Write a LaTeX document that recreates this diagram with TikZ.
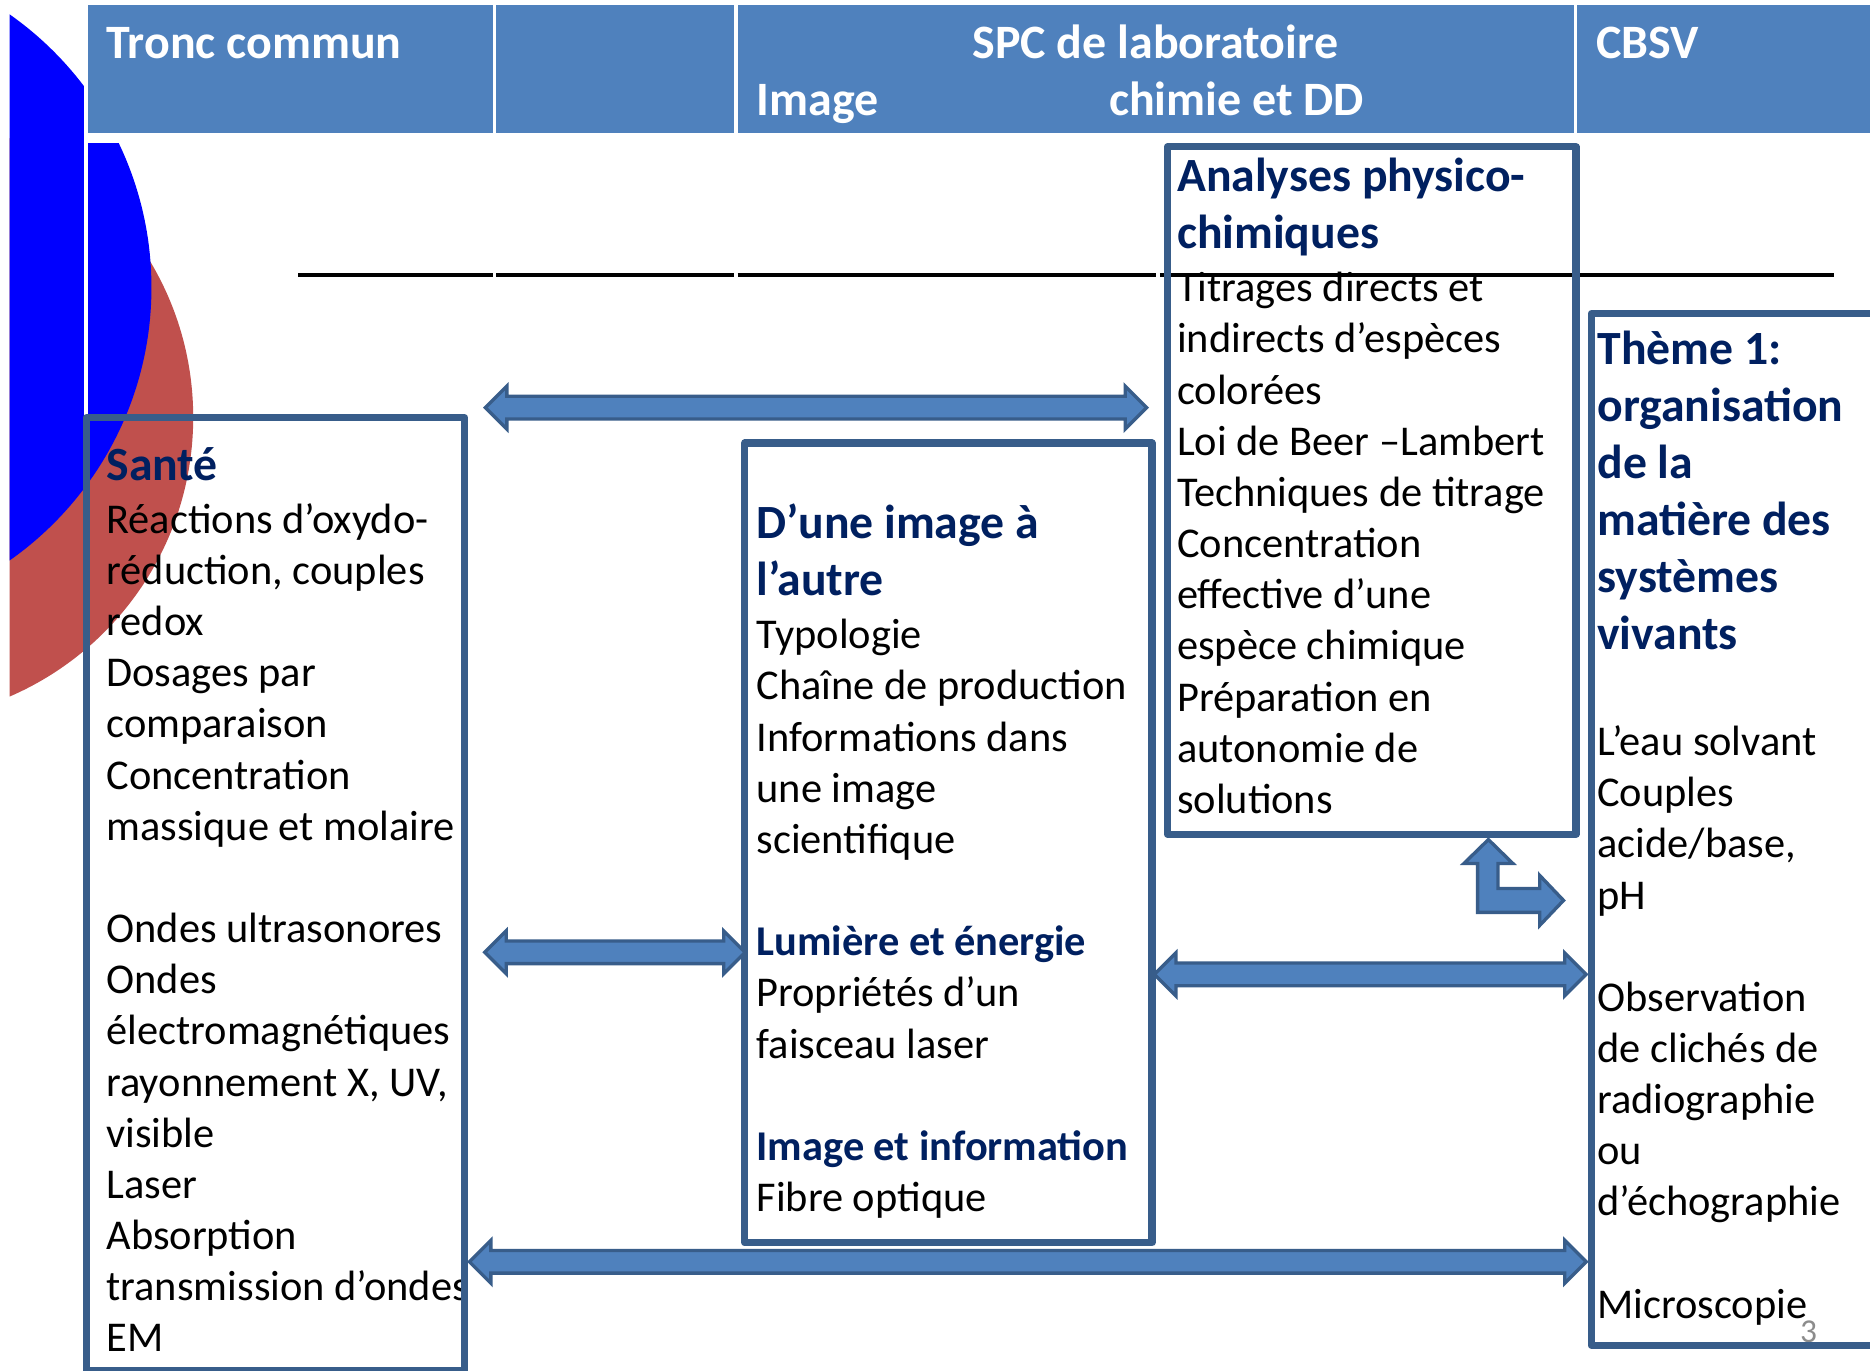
\documentclass[tikz,border=0pt]{standalone}
\usepackage{fontspec}
\setmainfont{Carlito}
\usetikzlibrary{calc}
\definecolor{hdr}{HTML}{4F81BD}
\definecolor{brd}{HTML}{385D8A}
\definecolor{navy}{HTML}{002060}
\definecolor{redc}{HTML}{C0504D}
\definecolor{pgnum}{HTML}{8C8C8C}
\tikzset{
  body/.style={anchor=base west, inner sep=0pt, font=\fontsize{17.78}{21}\selectfont},
  head/.style={anchor=base west, inner sep=0pt, text=navy, font=\fontsize{20}{24}\selectfont\bfseries},
  subhead/.style={anchor=base west, inner sep=0pt, text=navy, font=\fontsize{17.78}{21}\selectfont\bfseries},
  hdrtext/.style={anchor=base west, inner sep=0pt, text=white, font=\fontsize{20.1}{24}\selectfont\bfseries},
  hdrcell/.style={fill=hdr, draw=none},
  topicbox/.style={draw=brd, line width=3pt, line join=round},
  barrow/.style={fill=hdr, draw=brd, line width=1.4pt, line join=miter},
  rule/.style={draw=black, line width=1.3pt},
}
\newcommand\dblarrow[2]{%
  \draw[barrow] (#1) -- ($(#1)+(18,-18)$) -- ($(#1)+(18,-9.5)$) -- ($(#2)+(-18,-9.5)$)
    -- ($(#2)+(-18,-18)$) -- (#2) -- ($(#2)+(-18,18)$) -- ($(#2)+(-18,9.5)$)
    -- ($(#1)+(18,9.5)$) -- ($(#1)+(18,18)$) -- cycle;}
\begin{document}
\begin{tikzpicture}[x=0.5pt,y=-0.5pt]
\useasboundingbox (0,0) rectangle (1568,1149);
\fill[white] (0,0) rectangle (1568,1149);
% decorative circles
\begin{scope}
  \clip (8,0) rectangle (1568,1149);
  \fill[redc] (-92.8,350) circle [radius=127.4pt];
  \fill[blue] (-152.8,241) circle [radius=139.9pt];
\end{scope}
\fill[white] (70.5,0) rectangle (74,1149);
\fill[white] (70.5,111.8) rectangle (1568,120);
% header cells
\fill[hdrcell] (74,4.2) rectangle (413.1,111.8);
\fill[hdrcell] (415.9,4.2) rectangle (615.5,111.8);
\fill[hdrcell] (618.5,4.2) rectangle (1319.5,111.8);
\fill[hdrcell] (1322.5,4.2) rectangle (1568,111.8);
\node[hdrtext] (h1) at (88.9,48.9) {Tronc commun};
\node[hdrtext] (h2) at (815,48.9) {SPC de laboratoire};
\node[hdrtext] (h3) at (634,96.8) {Image};
\node[hdrtext] (h4) at (929.5,96.8) {chimie et DD};
\node[hdrtext] (h5) at (1338,48.9) {CBSV};
% black rule
\draw[rule] (250,230.6) -- (413,230.6);
\draw[rule] (416,230.6) -- (615.5,230.6);
\draw[rule] (618.5,230.6) -- (969.5,230.6);
\draw[rule] (972.5,230.6) -- (1538,230.6);
% Sante
\node[head] (s0) at (88.9,402.5) {Santé};
\foreach \y/\t [count=\i] in {447.2/Réactions d’oxydo-, 490.1/{réduction, couples}, 533/redox,
  575.9/Dosages par, 618.8/comparaison, 661.7/Concentration, 704.6/massique et molaire,
  790.4/Ondes ultrasonores, 833.3/Ondes, 876.2/électromagnétiques, 919.1/{rayonnement X, UV,},
  962/visible, 1004.9/Laser, 1047.8/Absorption, 1090.7/transmission d’ondes, 1133.6/EM}
  \node[body] (s\i) at (88.9,\y) {\t};
% Image
\node[head] (i0) at (634,451.4) {D’une image à};
\node[head] (i1) at (634,499) {l’autre};
\foreach \y/\t [count=\i] in {544/Typologie, 586.9/Chaîne de production, 629.8/Informations dans,
  672.7/une image, 715.6/scientifique, 844.3/Propriétés d’un, 887.2/faisceau laser, 1015.9/Fibre optique}
  \node[body] (ib\i) at (634,\y) {\t};
\node[subhead] (i2) at (634,801.4) {Lumière et énergie};
\node[subhead] (i3) at (634,973) {Image et information};
% Analyses
\node[head] (a0) at (986.6,160.7) {Analyses physico-};
\node[head] (a1) at (986.6,208.2) {chimiques};
\foreach \y/\t [count=\i] in {253/Titrages directs et, 295.9/indirects d’espèces, 338.8/colorées,
  381.7/Loi de Beer –Lambert, 424.6/Techniques de titrage, 467.5/Concentration, 510.4/effective d’une,
  553.3/espèce chimique, 596.2/Préparation en, 639.1/autonomie de, 682/solutions}
  \node[body] (ab\i) at (986.6,\y) {\t};
% Theme
\foreach \y/\t [count=\i] in {306/Thème 1:, 353.6/organisation, 401.3/de la, 449/matière des,
  496.7/systèmes, 544.4/vivants}
  \node[head] (t\i) at (1339,\y) {\t};
\foreach \y/\t [count=\i] in {633.5/L’eau solvant, 676.4/Couples, 719.3/{acide/base,}, 762.2/pH,
  848/Observation, 890.9/de clichés de, 933.8/radiographie, 976.7/ou, 1019.6/d’échographie,
  1105.4/Microscopie}
  \node[body] (tb\i) at (1339,\y) {\t};
\node[anchor=base west, inner sep=0pt, text=pgnum, font=\fontsize{14}{16}\selectfont] (pg) at (1509,1126) {3};
% boxes
\draw[topicbox] (72.4,350.3) rectangle (389.5,1149);
\draw[topicbox] (624.5,371.5) rectangle (966,1042);
\draw[topicbox] (979,123.2) rectangle (1321.5,699.5);
\draw[topicbox] (1334.3,263) rectangle (1590,1128);
% arrows
\coordinate (a1l) at (407,341.8);   \coordinate (a1r) at (961.5,341.8);
\coordinate (a2l) at (406.5,798.5); \coordinate (a2r) at (624.8,798.5);
\coordinate (a3l) at (968,817);     \coordinate (a3r) at (1330,817);
\coordinate (a4l) at (393.6,1058);  \coordinate (a4r) at (1330,1058);
\dblarrow{a1l}{a1r}
\dblarrow{a2l}{a2r}
\dblarrow{a3l}{a3r}
\dblarrow{a4l}{a4r}
\coordinate (bend) at (1248,704);
\draw[barrow] (bend) -- (1268.5,724) -- (1256,724) -- (1256,745) -- (1291,745) -- (1291,734)
  -- (1311,755) -- (1291,776) -- (1291,765) -- (1239,765) -- (1239,724) -- (1227.5,724) -- cycle;
\end{tikzpicture}
\end{document}
